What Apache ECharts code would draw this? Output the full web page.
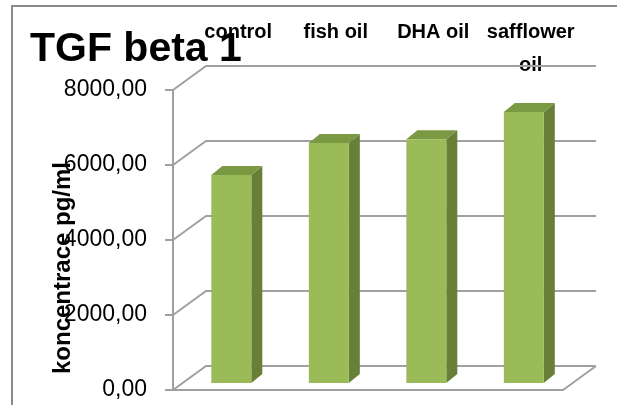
<!DOCTYPE html>
<html>
<head>
<meta charset="utf-8">
<script src="https://cdn.jsdelivr.net/npm/echarts@6/dist/echarts.min.js"></script>
<style>
html, body { margin: 0; padding: 0; background: #fff; }
#main { width: 617px; height: 405px; }
</style>
</head>
<body>
<div id="main"></div>
<script>
var categories = ['control', 'fish oil', 'DHA oil', 'safflower\noil'];
var values = [5550, 6400, 6500, 7230];
var yTicks = [0, 2000, 4000, 6000, 8000];
var titleText = 'TGF beta 1';
var yName = 'koncentrace pg/ml';

var myChart = echarts.init(document.getElementById('main'));

// depth of the 3d box (px) and of each bar
var DX = 33, DY = -24;
var BDX = 11, BDY = -9;
var FRONT = 0.29; // bar front face sits this far into the depth
var gridColor = '#a0a0a0';

function renderWalls(params, api) {
	var cs = params.coordSys;
	var left = cs.x, right = cs.x + cs.width;
	var v = api.value(1);
	var y = api.coord([0, v])[1];
	var children = [{
		type: 'polyline',
		shape: { points: [[left, y], [left + DX, y + DY], [right + DX, y + DY]] },
		style: { stroke: gridColor, lineWidth: 2, fill: null }
	}];
	if (v === 0) {
		children.push({
			type: 'polyline',
			shape: { points: [[left, y], [right, y], [right + DX, y + DY]] },
			style: { stroke: gridColor, lineWidth: 2, fill: null }
		});
	}
	return { type: 'group', children: children };
}

function renderBar(params, api) {
	var idx = api.value(0);
	var top = api.coord([idx, api.value(1)]);
	var bottom = api.coord([idx, 0]);
	var w = api.size([1, 0])[0] * 0.41;
	var ox = DX * FRONT, oy = DY * FRONT;
	var x0 = top[0] - w / 2 + ox, x1 = top[0] + w / 2 + ox;
	var yt = top[1] + oy, yb = bottom[1] + oy;
	return {
		type: 'group',
		children: [
			{
				type: 'polygon',
				shape: { points: [[x1, yt], [x1 + BDX, yt + BDY], [x1 + BDX, yb + BDY], [x1, yb]] },
				style: { fill: '#677f37' }
			},
			{
				type: 'polygon',
				shape: { points: [[x0, yt], [x0 + BDX, yt + BDY], [x1 + BDX, yt + BDY], [x1, yt]] },
				style: { fill: '#7b9942' }
			},
			{
				type: 'rect',
				shape: { x: x0, y: yt, width: w, height: yb - yt },
				style: { fill: '#9bbb59' }
			}
		]
	};
}

var option = {
	animation: false,
	textStyle: { fontFamily: 'Liberation Sans' },
	title: {
		text: titleText,
		left: 30,
		top: 29,
		padding: 0,
		textStyle: { fontSize: 41, fontWeight: 'bold', color: '#000', fontFamily: 'Liberation Sans' }
	},
	graphic: [{
		type: 'rect',
		shape: { x: 12, y: 6, width: 640, height: 440 },
		style: { fill: null, stroke: '#8a8a8a', lineWidth: 2 },
		z: -10
	}],
	grid: {
		left: 173,
		top: 90,
		width: 390,
		height: 300,
		outerBoundsMode: 'none'
	},
	xAxis: {
		type: 'category',
		position: 'top',
		data: categories,
		axisLine: { show: false },
		axisTick: { show: false },
		axisLabel: {
			interval: 0,
			margin: 74,
			verticalAlign: 'top',
			lineHeight: 33,
			padding: [0, 0, 0, 33],
			fontSize: 20,
			fontWeight: 'bold',
			color: '#000'
		}
	},
	yAxis: {
		type: 'value',
		min: 0,
		max: 8000,
		interval: 2000,
		name: yName,
		nameLocation: 'middle',
		nameRotate: 90,
		nameGap: 98,
		nameMoveOverlap: false,
		nameTextStyle: { fontSize: 24, fontWeight: 'bold', color: '#000', padding: [0, 56, 0, 0] },
		axisLine: { show: true, lineStyle: { color: gridColor, width: 2 } },
		axisTick: { show: true, inside: false, length: 8, lineStyle: { color: gridColor, width: 2 } },
		splitLine: { show: false },
		axisLabel: {
			margin: 26,
			fontSize: 23,
			color: '#000',
			formatter: function (v) { return v.toFixed(2).replace('.', ','); }
		}
	},
	series: [
		{
			type: 'custom',
			renderItem: renderWalls,
			data: yTicks.map(function (t) { return [0, t]; }),
			encode: { x: 0, y: 1 },
			silent: true,
			z: 1
		},
		{
			type: 'custom',
			renderItem: renderBar,
			data: values.map(function (v, i) { return [i, v]; }),
			encode: { x: 0, y: 1 },
			z: 2
		}
	]
};

myChart.setOption(option);
</script>
</body>
</html>
